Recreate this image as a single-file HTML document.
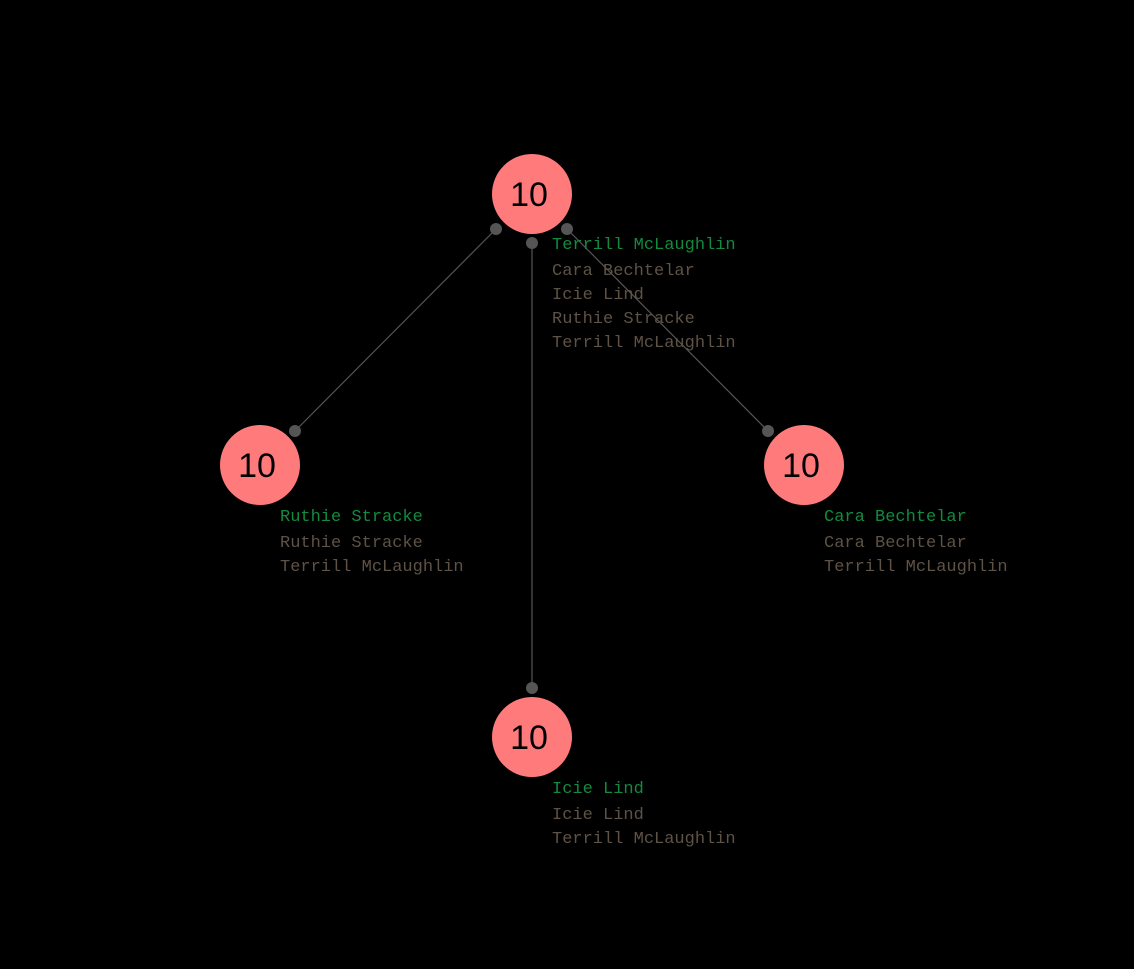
<!DOCTYPE html>
<html><head><style>
html,body{margin:0;padding:0;background:#000;}
svg text{font-family:"Liberation Mono",monospace;font-size:17px;}
.g{fill:#138a3e}.b{fill:#5e5246}
.n{font-family:"Liberation Sans",sans-serif;font-size:34px;font-weight:normal;fill:#000;text-anchor:middle}
</style></head><body>
<svg width="1134" height="964" viewBox="0 0 1134 964" xmlns="http://www.w3.org/2000/svg">
<rect width="1134" height="964" fill="#000"/>
<g stroke="#555" stroke-width="1.2">
<line x1="496" y1="229" x2="295" y2="431"/>
<line x1="532" y1="243" x2="532" y2="688"/>
<line x1="567" y1="229" x2="768" y2="431"/>
</g>
<g fill="#ff7b7b">
<circle cx="532" cy="194" r="40"/>
<circle cx="260" cy="465" r="40"/>
<circle cx="804" cy="465" r="40"/>
<circle cx="532" cy="737" r="40"/>
</g>
<g fill="#555">
<circle cx="496" cy="229" r="6"/><circle cx="295" cy="431" r="6"/>
<circle cx="532" cy="243" r="6"/><circle cx="532" cy="688" r="6"/>
<circle cx="567" cy="229" r="6"/><circle cx="768" cy="431" r="6"/>
</g>
<text class="n" x="529" y="206">10</text>
<text class="n" x="257" y="477">10</text>
<text class="n" x="801" y="477">10</text>
<text class="n" x="529" y="749">10</text>
<text class="g" x="552" y="249">Terrill McLaughlin</text>
<text class="b" x="552" y="275">Cara Bechtelar</text>
<text class="b" x="552" y="299">Icie Lind</text>
<text class="b" x="552" y="323">Ruthie Stracke</text>
<text class="b" x="552" y="347">Terrill McLaughlin</text>
<text class="g" x="280" y="521">Ruthie Stracke</text>
<text class="b" x="280" y="547">Ruthie Stracke</text>
<text class="b" x="280" y="571">Terrill McLaughlin</text>
<text class="g" x="824" y="521">Cara Bechtelar</text>
<text class="b" x="824" y="547">Cara Bechtelar</text>
<text class="b" x="824" y="571">Terrill McLaughlin</text>
<text class="g" x="552" y="793">Icie Lind</text>
<text class="b" x="552" y="819">Icie Lind</text>
<text class="b" x="552" y="843">Terrill McLaughlin</text>
</svg>
</body></html>
